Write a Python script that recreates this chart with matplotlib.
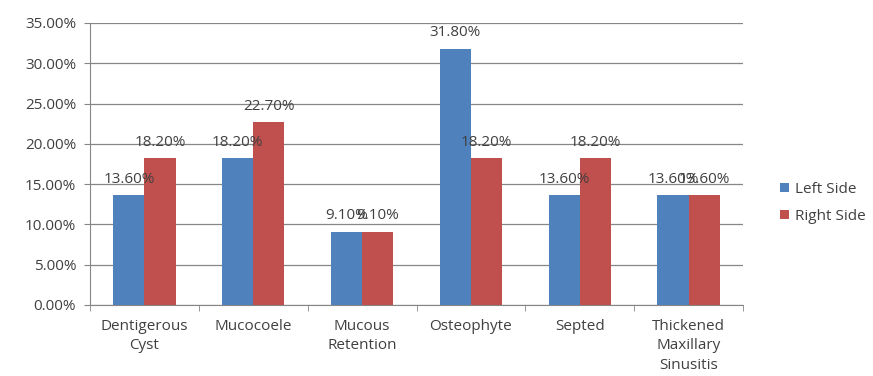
import numpy as np
import matplotlib
matplotlib.use('Agg')
import matplotlib.pyplot as plt
from matplotlib.ticker import FuncFormatter, FixedLocator

## Data
categories = ['Dentigerous\nCyst', 'Mucocoele', 'Mucous\nRetention', 'Osteophyte',
              'Septed', 'Thickened\nMaxillary\nSinusitis']
left_side = [13.6, 18.2, 9.1, 31.8, 13.6, 13.6]
right_side = [18.2, 22.7, 9.1, 18.2, 18.2, 13.6]

blue = '#4F81BD'
red = '#C0504D'
txt = '#404040'
fs = 11
plt.rcParams['font.family'] = ['Open Sans', 'DejaVu Sans']

fig = plt.figure(figsize=(8.73, 3.76), dpi=100)
ax = fig.add_axes([90 / 873, 1 - 305 / 376, 653 / 873, 282 / 376])

x = np.arange(len(categories))
w = 1 / 3.5
b1 = ax.bar(x - w / 2, left_side, w, color=blue, label='Left Side', zorder=3)
b2 = ax.bar(x + w / 2, right_side, w, color=red, label='Right Side', zorder=3)

# value labels above each bar
for bars, vals in ((b1, left_side), (b2, right_side)):
    for r, v in zip(bars, vals):
        ax.annotate('%.2f%%' % v, (r.get_x() + r.get_width() / 2, v),
                    xytext=(0, 6), textcoords='offset points',
                    ha='center', va='bottom', fontsize=fs, color=txt, zorder=4)

ax.set_xlim(-0.5, len(categories) - 0.5)
ax.set_ylim(0, 35)
ax.set_yticks(np.arange(0, 36, 5))
ax.yaxis.set_major_formatter(FuncFormatter(lambda v, p: '%.2f%%' % v))
ax.set_xticks(x)
ax.set_xticklabels(categories, fontsize=fs, color=txt, linespacing=1.4)
ax.xaxis.set_minor_locator(FixedLocator(np.arange(-0.5, len(categories), 1)))
ax.tick_params(axis='x', which='major', length=0, pad=10)
ax.tick_params(axis='x', which='minor', length=4, color='#868686')
ax.tick_params(axis='y', length=4, color='#868686', labelsize=fs, labelcolor=txt, pad=6)

ax.grid(axis='y', color='#868686', linewidth=0.9, zorder=0)
for s in ('top', 'right'):
    ax.spines[s].set_visible(False)
for s in ('left', 'bottom'):
    ax.spines[s].set_color('#868686')

fig.legend(handles=[b1, b2], loc='upper left', bbox_to_anchor=(766 / 873, 1 - 168 / 376),
           frameon=False, fontsize=fs, handlelength=0.6, handleheight=0.6,
           handletextpad=0.4, labelspacing=0.8, labelcolor=txt)

fig.savefig('out.png', dpi=100)
